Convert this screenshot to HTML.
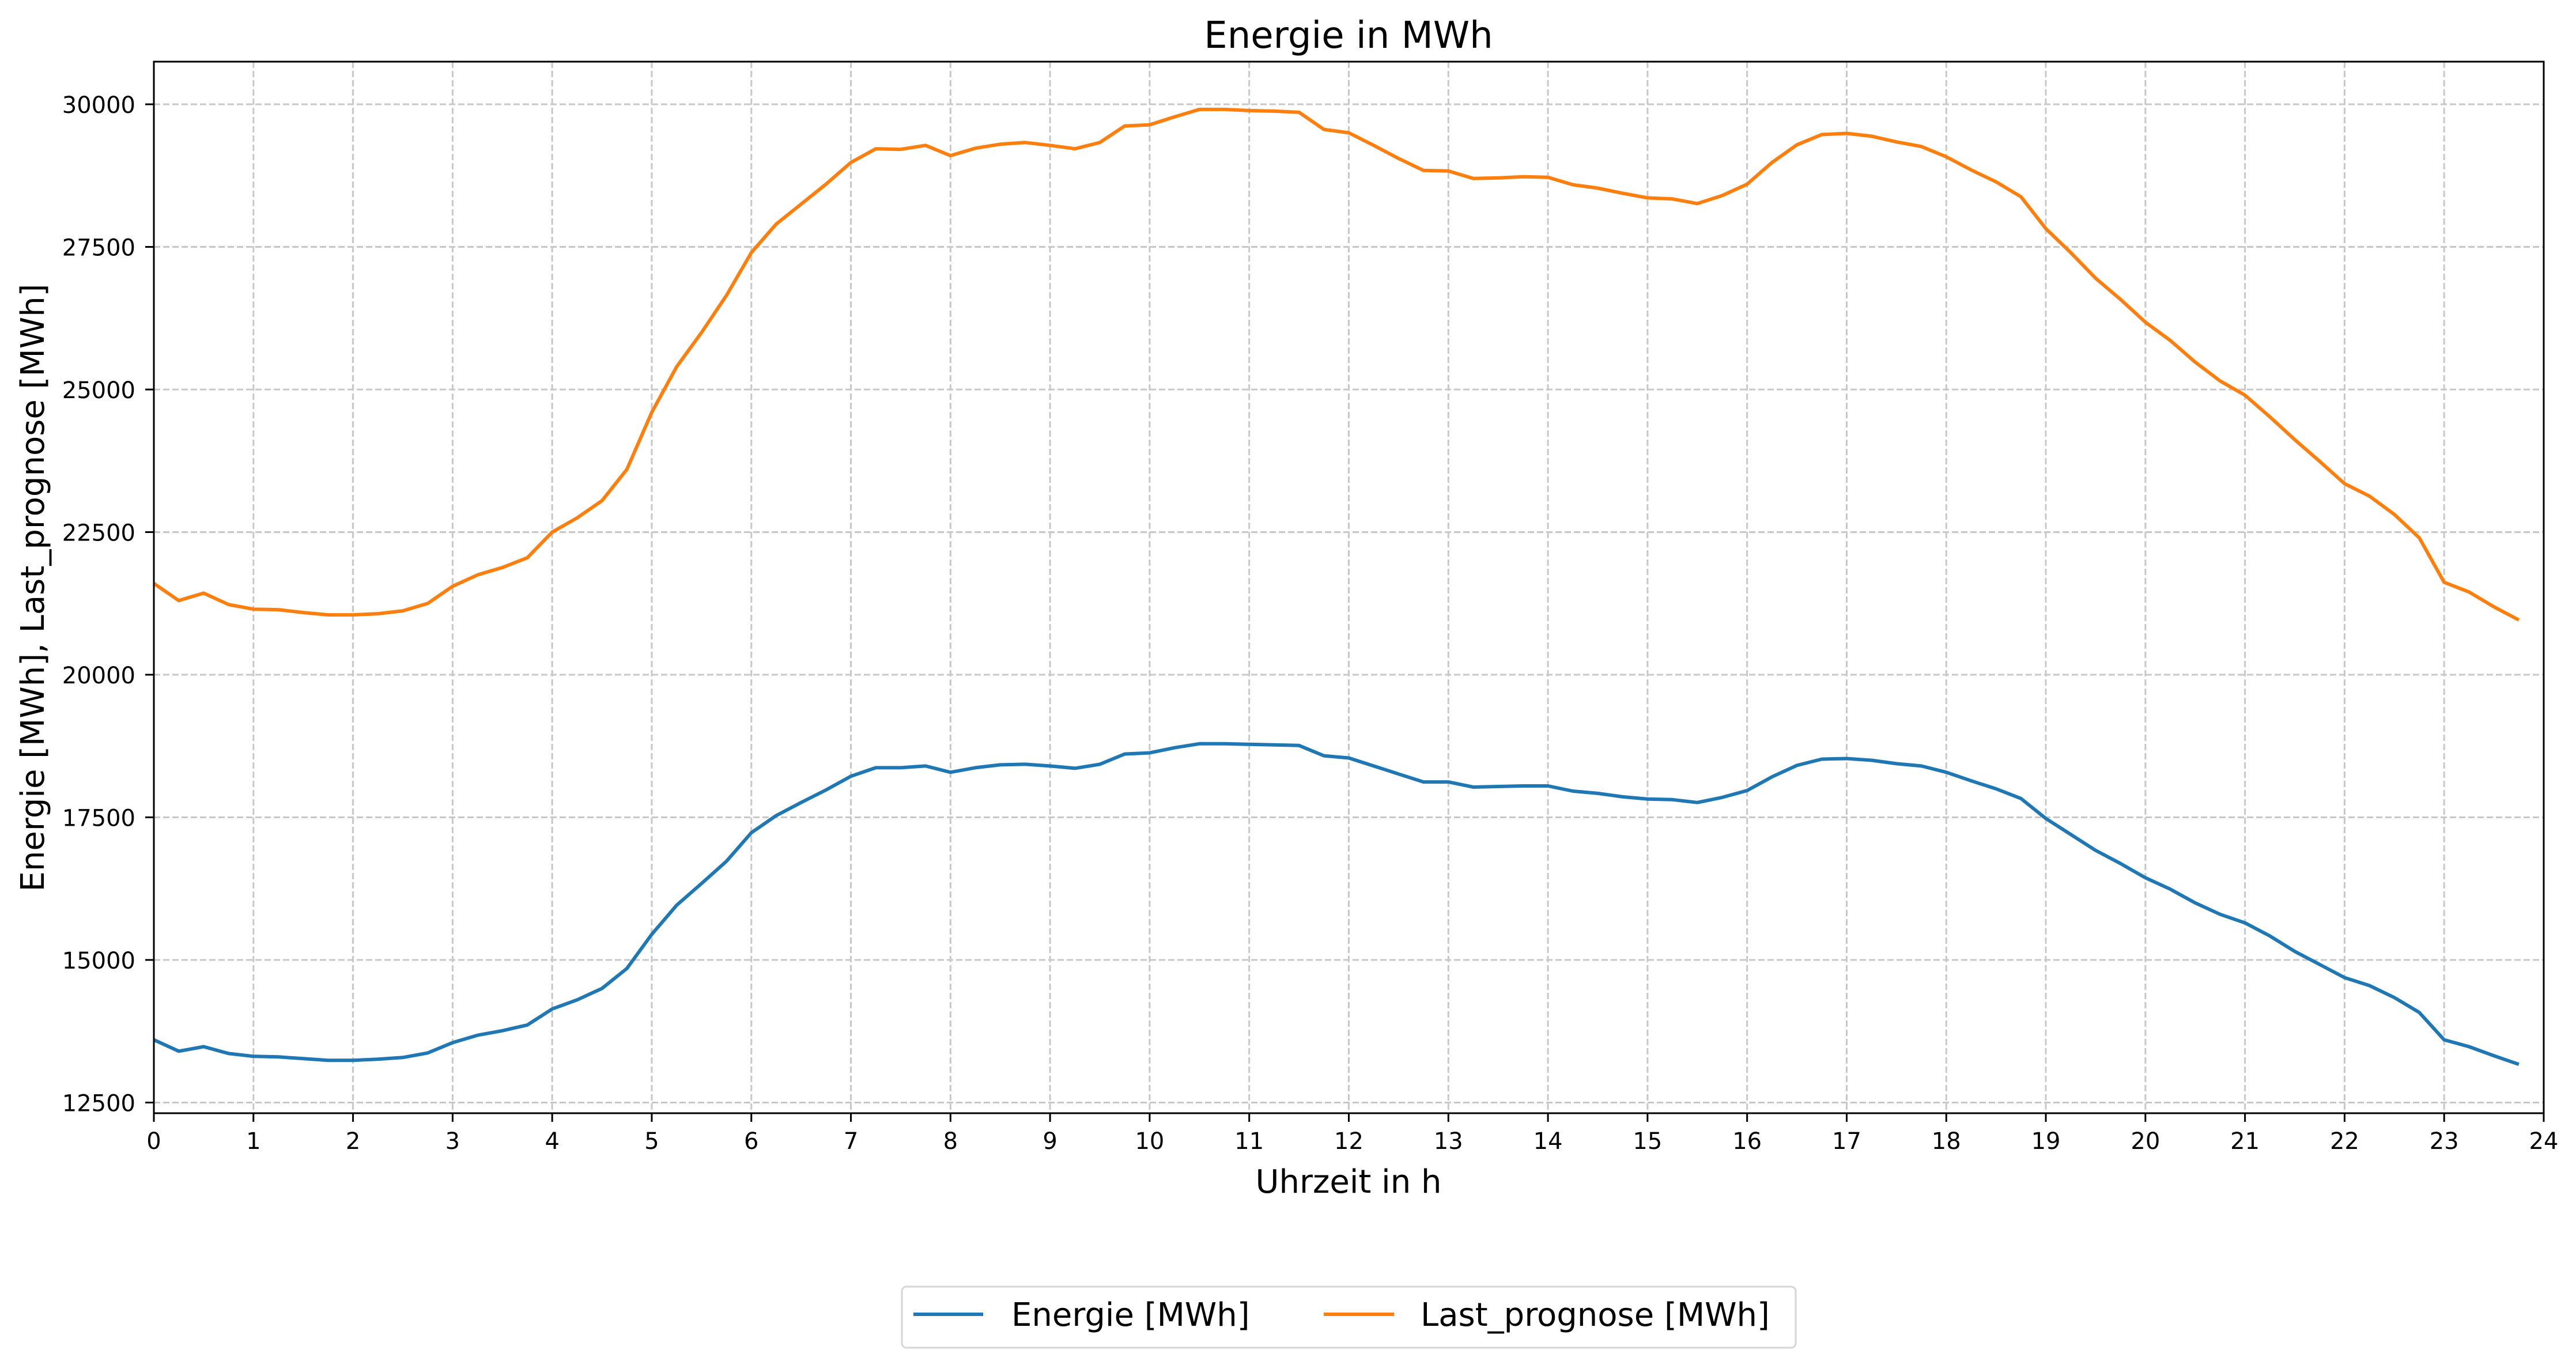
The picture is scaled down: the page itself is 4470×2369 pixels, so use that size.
<!DOCTYPE html>
<html><head><meta charset="utf-8"><style>
html,body{margin:0;padding:0;background:#fff;}
svg{display:block;font-family:"DejaVu Sans","Liberation Sans",sans-serif;}
</style></head><body>
<svg id="chart" width="4470" height="2369" viewBox="0 0 4470 2369" xmlns="http://www.w3.org/2000/svg">
<rect width="4470" height="2369" fill="#fff"/>
<g id="grid"></g>
<g id="series"></g>
<rect x="267" y="107" width="4147" height="1825" fill="none" stroke="#000" stroke-width="3"/>
<g id="ticks"></g>
<text x="2340" y="83" font-size="64" text-anchor="middle">Energie in MWh</text>
<text x="2340" y="2070" font-size="56" text-anchor="middle">Uhrzeit in h</text>
<text transform="translate(76,1020) rotate(-90)" font-size="56" text-anchor="middle">Energie [MWh], Last_prognose [MWh]</text>
<g>
<rect x="1565" y="2233" width="1551" height="106" rx="8" fill="#fff" stroke="#d6d6d6" stroke-width="3"/>
<line x1="1585" y1="2281" x2="1706" y2="2281" stroke="#1f77b4" stroke-width="6"/>
<text x="1755" y="2301" font-size="56">Energie [MWh]</text>
<line x1="2297" y1="2281" x2="2419" y2="2281" stroke="#ff7f0e" stroke-width="6"/>
<text x="2465" y="2301" font-size="56">Last_prognose [MWh]</text>
</g>
</svg>
<script>
const hours = [];
for (let i = 0; i < 96; i++) hours.push(i * 0.25);
const lastPrognose = [21600,21300,21430,21230,21150,21140,21090,21050,21050,21070,21120,21250,21550,21750,21880,22050,22500,22750,23050,23600,24600,25400,26000,26650,27400,27900,28250,28600,28980,29220,29210,29280,29100,29230,29300,29330,29280,29220,29330,29620,29640,29780,29910,29910,29890,29880,29860,29560,29500,29280,29050,28840,28830,28700,28710,28730,28720,28590,28530,28440,28360,28340,28260,28400,28600,28980,29290,29470,29490,29440,29340,29260,29080,28850,28640,28380,27820,27400,26950,26580,26180,25860,25480,25150,24900,24520,24120,23740,23350,23130,22810,22400,21620,21450,21190,20960];
const energie = [13600,13400,13480,13360,13310,13300,13270,13240,13240,13260,13290,13370,13550,13680,13760,13860,14140,14300,14500,14850,15450,15960,16340,16730,17230,17530,17760,17980,18220,18370,18370,18400,18290,18370,18420,18430,18400,18360,18430,18610,18630,18720,18790,18790,18780,18770,18760,18580,18540,18400,18260,18120,18120,18030,18040,18050,18050,17960,17920,17860,17820,17810,17760,17850,17970,18210,18410,18520,18530,18500,18440,18400,18290,18140,18000,17830,17480,17200,16920,16690,16440,16240,16000,15800,15650,15420,15150,14920,14690,14550,14340,14080,13600,13480,13320,13170];
const xTicks = [0,1,2,3,4,5,6,7,8,9,10,11,12,13,14,15,16,17,18,19,20,21,22,23,24];
const yTicks = [12500,15000,17500,20000,22500,25000,27500,30000];

const X0=267, X1=4414, Y0=107, Y1=1932;
const xMin=0, xMax=24;
const yAt30000=181, pxPer2500=247.5;
const xs = v => X0 + (v - xMin) / (xMax - xMin) * (X1 - X0);
const ys = v => yAt30000 + (30000 - v) / 2500 * pxPer2500;
const NS = "http://www.w3.org/2000/svg";
const grid = document.getElementById('grid'), ticks = document.getElementById('ticks'), series = document.getElementById('series');
function mk(tag, attrs, parent){ const e=document.createElementNS(NS,tag); for(const k in attrs) e.setAttribute(k,attrs[k]); parent.appendChild(e); return e; }

xTicks.forEach(t => {
  const x = xs(t);
  const g = mk('line',{x1:x,y1:Y0,x2:x,y2:Y1,stroke:'#c8c8c8','stroke-width':3,'stroke-dasharray':'11,5'},grid);
  
  
  const tk = mk('line',{x1:x,y1:Y1,x2:x,y2:Y1+15,stroke:'#000','stroke-width':3},ticks);
  
  
  const tl = mk('text',{x:x,y:1994,'font-size':40,'text-anchor':'middle'},ticks);
  tl.textContent = String(t);
  
  
});
yTicks.forEach(t => {
  const y = ys(t);
  const g = mk('line',{x1:X0,y1:y,x2:X1,y2:y,stroke:'#c8c8c8','stroke-width':3,'stroke-dasharray':'11,5'},grid);
  
  
  const tk = mk('line',{x1:X0-15,y1:y,x2:X0,y2:y,stroke:'#000','stroke-width':3},ticks);
  
  
  const tl = mk('text',{x:235,y:y+15,'font-size':40,'text-anchor':'end'},ticks);
  tl.textContent = String(t);
  
  
});
function drawLine(vals, color, name){
  const pts = vals.map((v,i)=> xs(hours[i]).toFixed(1)+','+ys(v).toFixed(1)).join(' ');
  const p = mk('polyline',{points:pts,fill:'none',stroke:color,'stroke-width':6,'stroke-linejoin':'round'},series);
  
  
}
drawLine(energie, '#1f77b4', 'energie-line');
drawLine(lastPrognose, '#ff7f0e', 'last-prognose-line');
</script>
</body></html>
